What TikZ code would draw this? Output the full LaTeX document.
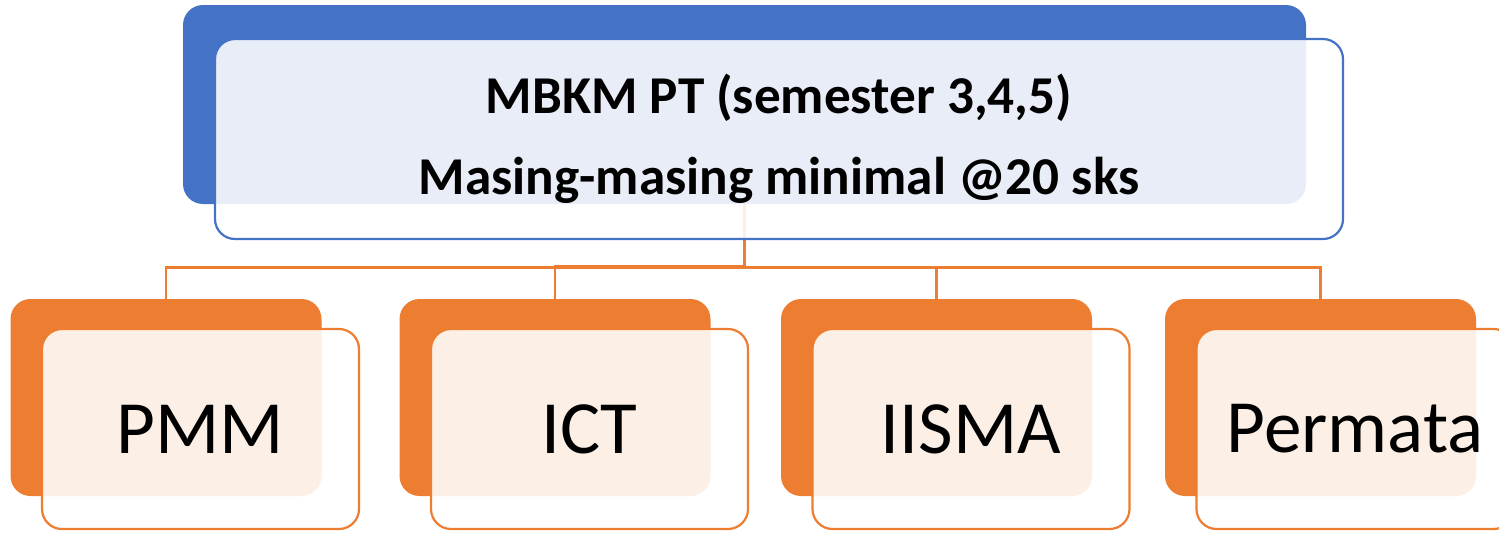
\documentclass[tikz,border=0pt]{standalone}
\usepackage{fontspec}
\setmainfont{Carlito}
\definecolor{mbblue}{HTML}{4472C4}
\definecolor{mborange}{HTML}{ED7D31}

\begin{document}
\begin{tikzpicture}[x=0.5pt, y=-0.5pt,
        back/.style={rounded corners=10pt, inner sep=0pt, minimum width=155.5pt, minimum height=98.5pt, fill=mborange},
        front/.style={draw=mborange, rounded corners=10pt, fill=white, fill opacity=0.88, text opacity=1, line width=1.1pt, inner sep=0pt, minimum width=158.5pt, minimum height=100pt, font=\fontsize{37.6}{46}\selectfont},
        link/.style={draw=mborange, line width=1.2pt}]
            \useasboundingbox (0,0) rectangle (1499,532);
            \node[back, fill=mbblue, minimum width=561.5pt, minimum height=99.5pt] (topb) at (744.5,104.5) {};
            \node[back] (pmmb) at (166,397.5) {};
            \node[back] (ictb) at (555,397.5) {};
            \node[back] (iismab) at (936.5,397.5) {};
            \node[back] (permatab) at (1320.5,397.5) {};
            \draw[link] (topb.south) -- ++(0,63) -| (pmmb.north);
            \draw[link] (topb.south) -- ++(0,62) -| (ictb.north);
            \draw[link] (topb.south) -- ++(0,63) -| (iismab.north);
            \draw[link] (topb.south) -- ++(0,63) -| (permatab.north);
            \node[front, draw=mbblue, minimum width=564pt, align=center, font=\fontsize{26.6}{40.5}\selectfont\bfseries] (topf) at ([shift={(34.5,34.5)}]topb.center) {MBKM PT (semester 3,4,5)\\Masing-masing minimal @20 sks};
            \node[front] (pmmf) at ([shift={(34.5,31.5)}]pmmb.center) {PMM};
            \node[front] (ictf) at ([shift={(34.5,31.5)}]ictb.center) {ICT};
            \node[front] (iismaf) at ([shift={(34.5,31.5)}]iismab.center) {IISMA};
            \node[front] (permataf) at ([shift={(34.5,31.5)}]permatab.center) {Permata};
\end{tikzpicture}
\end{document}
